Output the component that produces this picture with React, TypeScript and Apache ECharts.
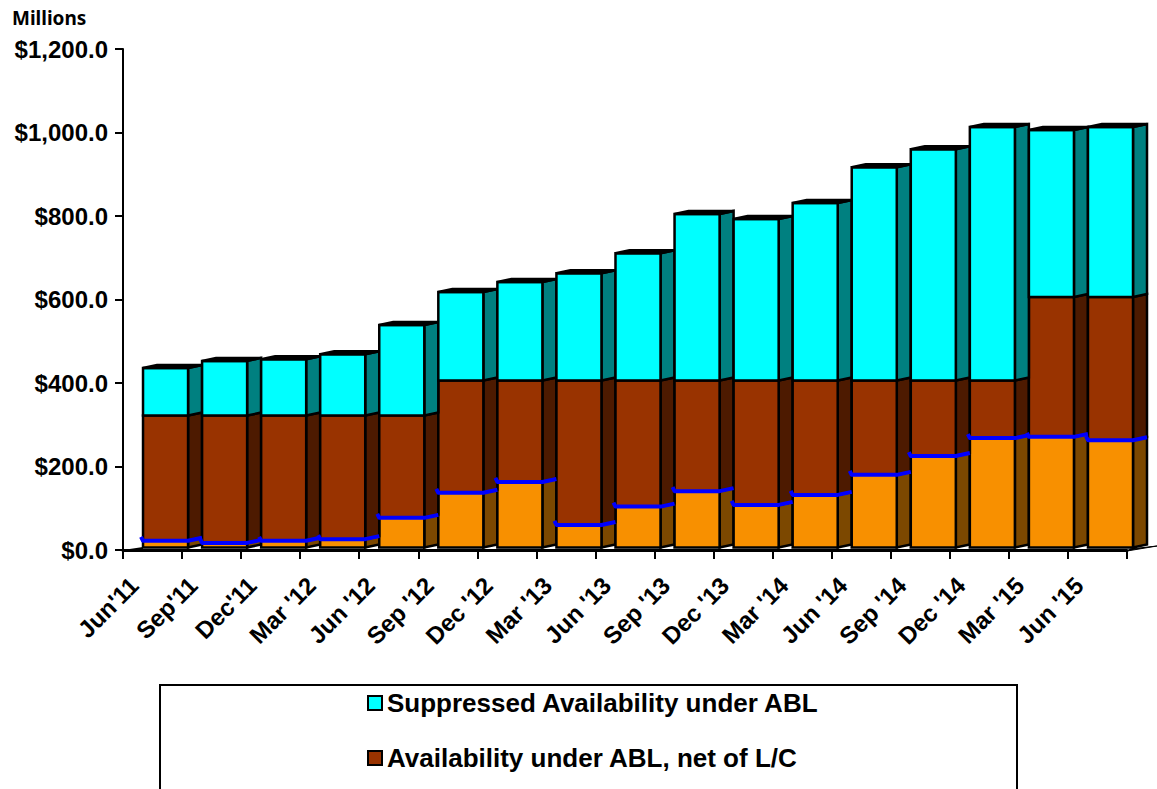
import React, { useEffect, useRef } from "react";
import * as echarts from "echarts";

const categories = ["Jun'11", "Sep'11", "Dec'11", "Mar '12", "Jun '12", "Sep '12", "Dec '12", "Mar '13", "Jun '13", "Sep '13", "Dec '13", "Mar '14", "Jun '14", "Sep '14", "Dec '14", "Mar '15", "Jun '15"];
const liquidity = [16, 11, 16, 20, 71, 131, 157, 54, 98, 135, 102, 126, 174, 219, 262, 265, 257];
const availability = [300, 305, 300, 296, 245, 269, 243, 346, 302, 265, 298, 274, 226, 181, 138, 335, 343];
const suppressed = [114, 131, 135, 147, 217, 212, 236, 257, 305, 399, 387, 425, 511, 554, 607, 400, 407];

const SUPPRESSED_NAME = "Suppressed Availability under ABL";
const AVAILABILITY_NAME = "Availability under ABL, net of L/C";
const FONT = "'Liberation Sans', Arial, sans-serif";

const LIFT = 2.5;
const DX = 14;
const DY = 3;

function barFaces(front: string, side: string, withTop: boolean) {
  return (_: any, api: any) => {
    const i = api.value(0);
    const b = api.coord([i, api.value(1)]);
    const t = api.coord([i, api.value(2)]);
    const bw = api.size([1, 0])[0];
    const l = b[0] - bw / 2 + bw * (20 / 59);
    const r = l + bw * (45 / 59);
    const yb = b[1] - LIFT;
    const yt = t[1] - LIFT;
    const line = { stroke: "#000", lineWidth: 2.5, lineJoin: "miter" };
    const children: any[] = [
      {
        type: "polygon",
        shape: { points: [[r, yt], [r + DX, yt - DY], [r + DX, yb - DY], [r, yb]] },
        style: { fill: side, ...line },
      },
      {
        type: "polygon",
        shape: { points: [[l, yt], [r, yt], [r, yb], [l, yb]] },
        style: { fill: front, ...line },
      },
    ];
    if (withTop) {
      children.push({
        type: "polygon",
        shape: { points: [[l, yt], [l + DX, yt - DY], [r + DX, yt - DY], [r, yt]] },
        style: { fill: "#000", ...line },
      });
    }
    return { type: "group", children };
  };
}

function blueLine(_: any, api: any) {
  const i = api.value(0);
  const p = api.coord([i, api.value(1)]);
  const bw = api.size([1, 0])[0];
  const l = p[0] - bw / 2 + bw * (20 / 59);
  const r = l + bw * (45 / 59);
  const y = p[1] - LIFT;
  return {
    type: "polyline",
    shape: { points: [[l - 2, y - 4], [l, y], [r, y], [r + DX, y - DY]] },
    style: { stroke: "#0000FF", lineWidth: 4, fill: "none", lineJoin: "round" },
  };
}

export default function App() {
  const ref = useRef<HTMLDivElement>(null);

  useEffect(() => {
    document.body.style.margin = "0";
    document.body.style.overflow = "hidden";
    const chart = echarts.init(ref.current!, null, { renderer: "svg" });

    const layer0 = liquidity.map((v, i) => [i, 0, v]);
    const layer1 = availability.map((v, i) => [i, liquidity[i], liquidity[i] + v]);
    const layer2 = suppressed.map((v, i) => [i, liquidity[i] + availability[i], liquidity[i] + availability[i] + v]);

    const common = { type: "custom", encode: { x: 0, y: [1, 2] }, clip: false, silent: true };

    chart.setOption({
      animation: false,
      backgroundColor: "#fff",
      title: {
        text: "Millions",
        left: 7,
        top: 3,
        textStyle: { fontFamily: "'Noto Sans', sans-serif", fontSize: 19, fontWeight: 700, color: "#000" },
      },
      grid: { left: 123, right: 30, top: 49, bottom: 239, containLabel: false },
      xAxis: {
        type: "category",
        data: categories,
        boundaryGap: true,
        axisLine: { show: true, lineStyle: { color: "#000", width: 3 } },
        axisTick: { show: true, length: 9, alignWithLabel: false, lineStyle: { color: "#000", width: 2 } },
        axisLabel: {
          interval: 0,
          rotate: 45,
          margin: 13,
          padding: [0, 26, 0, 0],
          fontFamily: FONT,
          fontWeight: 700,
          fontSize: 24,
          color: "#000",
        },
      },
      yAxis: {
        type: "value",
        min: 0,
        max: 1200,
        interval: 200,
        splitLine: { show: false },
        axisLine: { show: true, lineStyle: { color: "#000", width: 2 } },
        axisTick: { show: true, length: 8, lineStyle: { color: "#000", width: 2 } },
        axisLabel: {
          margin: 15,
          fontFamily: FONT,
          fontWeight: 700,
          fontSize: 24,
          color: "#000",
          formatter: (v: number) => "$" + v.toLocaleString("en-US", { minimumFractionDigits: 1, maximumFractionDigits: 1 }),
        },
      },
      legend: {
        orient: "vertical",
        left: 362,
        top: 685,
        itemGap: 29,
        itemWidth: 14,
        itemHeight: 14,
        icon: "rect",
        selectedMode: false,
        textStyle: { fontFamily: FONT, fontWeight: 700, fontSize: 26, color: "#000" },
        data: [
          { name: SUPPRESSED_NAME, itemStyle: { color: "#00FFFF", borderColor: "#000", borderWidth: 2 } },
          { name: AVAILABILITY_NAME, itemStyle: { color: "#993300", borderColor: "#000", borderWidth: 2 } },
        ],
      },
      graphic: [
        { type: "rect", z: -1, shape: { x: 160, y: 685, width: 857, height: 200 }, style: { fill: "#fff", stroke: "#000", lineWidth: 2 } },
        { type: "polygon", shape: { points: [[123, 550], [143, 547], [143, 550]] }, style: { fill: "#000" } },
        { type: "polygon", shape: { points: [[1127, 551], [1157, 546], [1130, 549]] }, style: { fill: "#000", stroke: "#000", lineWidth: 1 } },
      ],
      series: [
        { ...common, name: "Liquidity", data: layer0, renderItem: barFaces("#F89000", "#7C4800", false) },
        { ...common, name: AVAILABILITY_NAME, data: layer1, renderItem: barFaces("#993300", "#4D1A00", false) },
        { ...common, name: SUPPRESSED_NAME, data: layer2, renderItem: barFaces("#00FFFF", "#008080", true) },
        {
          type: "custom",
          name: "Blue line",
          clip: false,
          silent: true,
          encode: { x: 0, y: 1 },
          z: 5,
          data: liquidity.map((v, i) => [i, v]),
          renderItem: blueLine,
        },
      ],
    });

    return () => chart.dispose();
  }, []);

  return <div ref={ref} style={{ position: "absolute", left: 0, top: 0, width: 1157, height: 789 }} />;
}
